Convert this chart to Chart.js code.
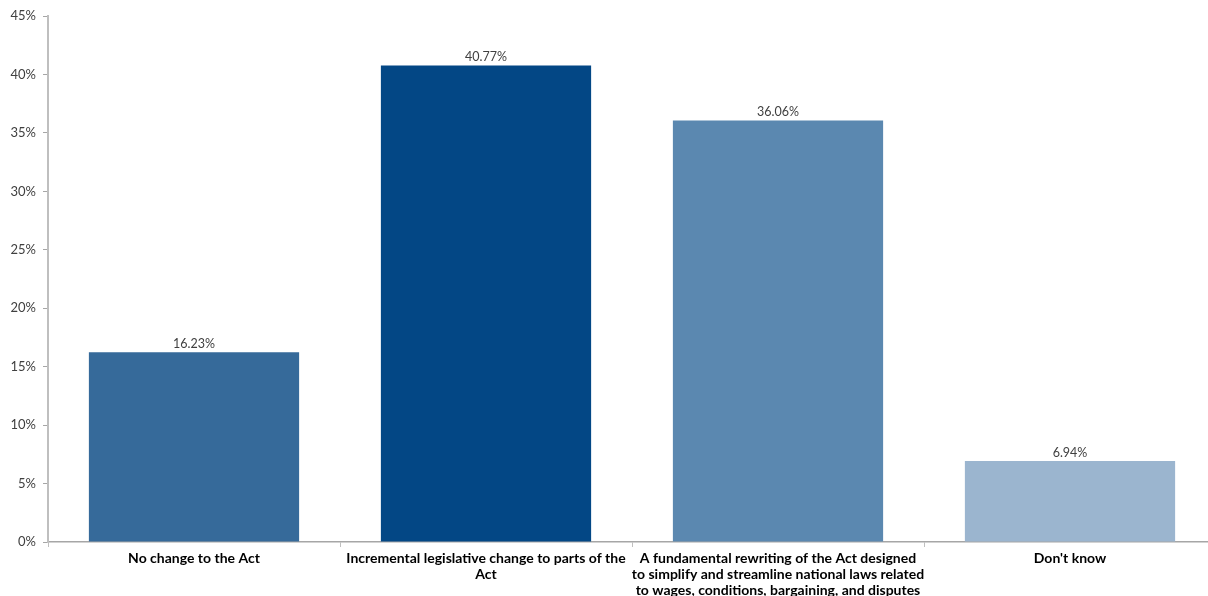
<!DOCTYPE html>
<html>
<head>
<meta charset="utf-8">
<script src="https://cdn.jsdelivr.net/npm/chart.js@4/dist/chart.umd.min.js"></script>
<style>
html,body{margin:0;padding:0;background:#fff;overflow:hidden;width:1208px;height:596px;}
canvas{display:block;}
</style>
</head>
<body>
<canvas id="c" width="1216" height="596"></canvas>
<script>
const categories = [
  "No change to the Act",
  ["Incremental legislative change to parts of the", "Act"],
  ["A fundamental rewriting of the Act designed", "to simplify and streamline national laws related", "to wages, conditions, bargaining, and disputes"],
  "Don't know"
];
const values = [16.23, 40.77, 36.06, 6.94];
const barColors = ["#366A9A", "#034785", "#5B88B0", "#9BB5CF"];
const yMax = 45;
const yStep = 5;

const dataLabels = {
  id: 'dataLabels',
  afterDatasetsDraw(chart) {
    const ctx = chart.ctx;
    const meta = chart.getDatasetMeta(0);
    ctx.save();
    ctx.font = '12.5px Lato, "Open Sans", sans-serif';
    ctx.fillStyle = '#404040';
    ctx.textAlign = 'center';
    ctx.textBaseline = 'bottom';
    meta.data.forEach((bar, i) => {
      ctx.fillText(values[i].toFixed(2) + '%', bar.x, bar.y - 2);
    });
    ctx.restore();
  }
};

new Chart(document.getElementById('c'), {
  type: 'bar',
  data: {
    labels: categories,
    datasets: [{
      data: values,
      backgroundColor: barColors,
      borderWidth: 0,
      barPercentage: 0.72,
      categoryPercentage: 1.0
    }]
  },
  options: {
    responsive: false,
    animation: false,
    layout: { padding: { top: 16, left: 0, right: 0, bottom: 0 } },
    plugins: { legend: { display: false }, tooltip: { enabled: false } },
    scales: {
      x: {
        grid: { display: true, drawOnChartArea: false, drawTicks: true, tickLength: 5, color: '#BFBFBF', offset: true },
        border: { display: true, color: '#A6A6A6', width: 1.5 },
        ticks: { color: '#000000', font: { family: 'Lato, "Open Sans", sans-serif', size: 14, weight: 'bold', lineHeight: 1.14 }, padding: 4, maxRotation: 0, autoSkip: false },
        afterFit(scale) { scale.height = 54; }
      },
      y: {
        min: 0, max: yMax,
        grid: { display: true, drawOnChartArea: false, drawTicks: true, tickLength: 5, color: '#A6A6A6' },
        border: { display: true, color: '#BFBFBF', width: 2 },
        ticks: { stepSize: yStep, color: '#404040', font: { family: 'Lato, "Open Sans", sans-serif', size: 13 }, padding: 7, callback: v => v + '%' },
        afterFit(scale) { scale.width = 48; }
      }
    }
  },
  plugins: [dataLabels]
});
</script>
</body>
</html>
